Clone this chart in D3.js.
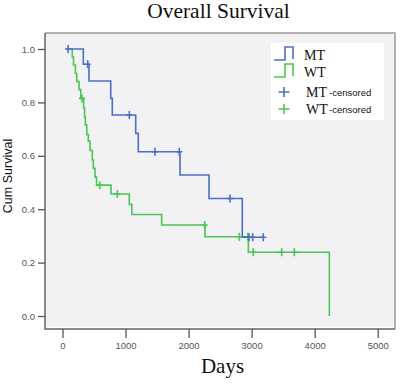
<!DOCTYPE html>
<html>
<head>
<meta charset="utf-8">
<script src="https://cdn.jsdelivr.net/npm/d3@7"></script>
<style>
  html, body { margin: 0; padding: 0; background: #fff; }
  svg { display: block; }
</style>
</head>
<body>
<svg id="chart" width="400" height="388"></svg>
<script>
// ---- data ----
const mtTimes = [55, 330, 420, 765, 790, 1161, 1202, 1864, 2324, 2852, 3185];
const mtSurv  = [1, 0.943, 0.88, 0.815, 0.753, 0.684, 0.615, 0.528, 0.44, 0.295, 0.295];
const mtCensor = [90, 400, 1060, 1467, 1853, 2657, 2958, 3017, 3185];

const wtTimes = [150, 155, 175, 205, 225, 262, 290, 335, 350, 362, 385, 409, 436, 473, 489, 516, 540, 769, 1060, 1100, 1573, 2260, 2948, 4233];
const wtSurv  = [1, 0.97, 0.94, 0.909, 0.878, 0.848, 0.815, 0.78, 0.745, 0.715, 0.68, 0.655, 0.62, 0.584, 0.553, 0.52, 0.49, 0.457, 0.418, 0.38, 0.341, 0.297, 0.239, 0];
const wtCensor = [309, 590, 870, 2255, 2805, 2940, 3027, 3477, 3677];

const xTicks = [0, 1000, 2000, 3000, 4000, 5000];
const yTicks = [0, 0.2, 0.4, 0.6, 0.8, 1.0];
const legendNames = ["MT", "WT", "MT", "WT"];

// ---- layout ----
const svg = d3.select("#chart");
const frame = {left: 45, right: 395, top: 33, bottom: 329};
const x = d3.scaleLinear().domain([0, 5000]).range([62.5, 377.7]);
const y = d3.scaleLinear().domain([0, 1]).range([316, 49]);
const blue = "#4b6fc8", green = "#4cc553";

// plot background & frame
svg.append("rect").attr("x", frame.left).attr("y", frame.top)
  .attr("width", frame.right - frame.left).attr("height", frame.bottom - frame.top - 2)
  .attr("fill", "#f2f2f4");
svg.append("path")
  .attr("d", `M${frame.left},${frame.top}H${frame.right}V${frame.bottom}`)
  .attr("fill", "none").attr("stroke", "#9a9a9a").attr("stroke-width", 1.5);
svg.append("path")
  .attr("d", `M${frame.left},${frame.top}V${frame.bottom}H${frame.right}`)
  .attr("fill", "none").attr("stroke", "#666").attr("stroke-width", 1.5);

// axes
const yAxis = svg.append("g").attr("transform", `translate(${frame.left},0)`)
  .call(d3.axisLeft(y).tickValues(yTicks).tickFormat(d3.format(".1f")).tickSize(7).tickPadding(3).tickSizeOuter(0));
const xAxis = svg.append("g").attr("transform", `translate(0,${frame.bottom})`)
  .call(d3.axisBottom(x).tickValues(xTicks).tickFormat(d3.format("d")).tickSize(9).tickPadding(4).tickSizeOuter(0));
[yAxis, xAxis].forEach(a => {
  a.select(".domain").remove();
  a.selectAll(".tick line").attr("stroke", "#555").attr("stroke-width", 1.3);
  a.selectAll(".tick text").attr("fill", "#555").style("font-family", "Liberation Sans, Arial, sans-serif").style("font-size", "9.5px");
});

// curves
const line = d3.line().x(d => x(d[0])).y(d => y(d[1])).curve(d3.curveStepAfter);
function stepVal(times, surv, t) {
  let v = surv[0];
  for (let i = 0; i < times.length; i++) if (times[i] <= t) v = surv[i];
  return v;
}
function drawSeries(times, surv, censor, color) {
  svg.append("path").datum(times.map((t, i) => [t, surv[i]]))
    .attr("d", line).attr("fill", "none").attr("stroke", color).attr("stroke-width", 1.6);
  const g = svg.append("g");
  censor.forEach(t => {
    const cx = x(t), cy = y(stepVal(times, surv, t));
    g.append("path").attr("d", `M${cx},${cy - 4}V${cy + 4}M${cx - 3},${cy}H${cx + 3}`)
      .attr("stroke", color).attr("stroke-width", 1.6).attr("fill", "none");
  });
}
drawSeries(wtTimes, wtSurv, wtCensor, green);
drawSeries(mtTimes, mtSurv, mtCensor, blue);

// titles
svg.append("text").attr("x", 218.5).attr("y", 17.5).attr("text-anchor", "middle")
  .style("font-family", "Liberation Serif, Times New Roman, serif").style("font-size", "21.5px")
  .attr("fill", "#111").text("Overall Survival");
svg.append("text").attr("x", 222.5).attr("y", 373).attr("text-anchor", "middle")
  .style("font-family", "Liberation Serif, Times New Roman, serif").style("font-size", "21px")
  .attr("fill", "#111").text("Days");
svg.append("text").attr("transform", "translate(12,176) rotate(-90)").attr("text-anchor", "middle")
  .style("font-family", "Liberation Sans, Arial, sans-serif").style("font-size", "12.5px")
  .attr("fill", "#111").text("Cum Survival");

// legend
const lg = svg.append("g");
lg.append("rect").attr("x", 271).attr("y", 43).attr("width", 113).attr("height", 77).attr("fill", "#fff");
const rowY = [55, 72, 92, 109];
const colors = [blue, green, blue, green];
rowY.forEach((ry, i) => {
  if (i < 2) {
    lg.append("path").attr("d", `M274,${ry + 5}H285V${ry - 8}H293V${ry + 4}`)
      .attr("fill", "none").attr("stroke", colors[i]).attr("stroke-width", 1.6);
  } else {
    lg.append("path").attr("d", `M284,${ry - 5}V${ry + 5}M278.5,${ry}H289.5`)
      .attr("fill", "none").attr("stroke", colors[i]).attr("stroke-width", 1.6);
  }
  const t = lg.append("text").attr("x", i < 2 ? 304 : 306).attr("y", ry + 5)
    .style("font-family", "Liberation Serif, Times New Roman, serif").style("font-size", "14px")
    .attr("fill", "#111").text(legendNames[i]);
  if (i >= 2) {
    lg.append("text").attr("x", 329).attr("y", ry + 4)
      .style("font-family", "Liberation Sans, Arial, sans-serif").style("font-size", "9.5px")
      .attr("fill", "#111").text("-censored");
  }
});
</script>
</body>
</html>
